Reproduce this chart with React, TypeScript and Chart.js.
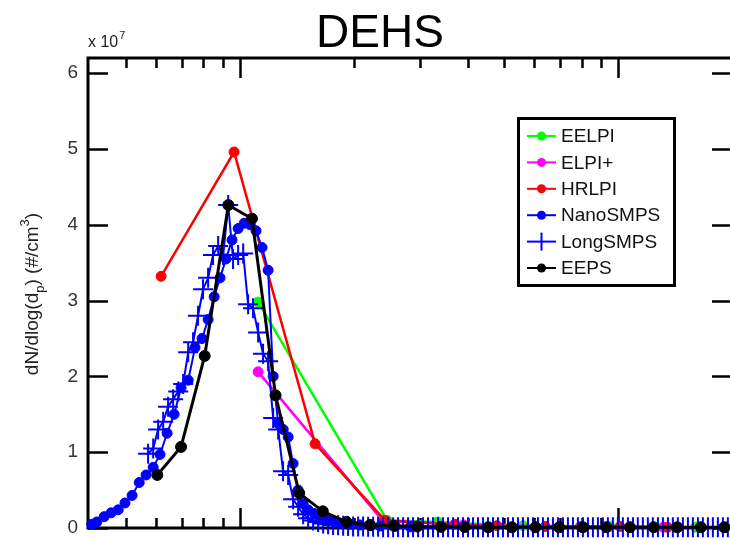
import { useEffect, useRef } from "react";
import { Chart, registerables } from "chart.js";

Chart.register(...registerables);

// ---- Data (y values in units of 10^7 #/cm^3, x = particle diameter in nm) ----
const chartTitle = "DEHS";
const yTickValues = [0, 1, 2, 3, 4, 5, 6];
const xMajorTicks = [100, 1000];
const xMinorTicks = [50, 60, 70, 80, 90, 200, 300, 400, 500, 600, 700, 800, 900, 2000];

const seriesNames = ["EELPI", "ELPI+", "HRLPI", "NanoSMPS", "LongSMPS", "EEPS"];

const eelpiX = [111.6, 245, 333, 560, 950, 1600];
const eelpiY = [2.98, 0.1, 0.08, 0.03, 0.02, 0.01];

const elpiPlusX = [111.6, 238, 390, 794, 1316, 1900];
const elpiPlusY = [2.06, 0.1, 0.04, 0.02, 0.01, 0.01];

const hrlpiX = [61.8, 96.4, 157.9, 242, 370, 478, 641, 1011, 1350, 1900];
const hrlpiY = [3.32, 4.96, 1.11, 0.1, 0.05, 0.03, 0.02, 0.02, 0.01, 0.01];

const nanoX = [
  40.5, 41.8, 43.7, 45.6, 47.6, 49.6, 51.8, 54.1, 56.4, 58.9, 61.4, 64.1, 66.9, 69.8, 72.9, 76.0,
  79.3, 82.3, 85.4, 88.5, 91.8, 95.2, 98.8, 102.5, 106.3, 110.2, 114.3, 118.6, 122.3, 126.1, 130.0,
  134.0, 138.1, 142.4, 146.8, 151.3, 157.0, 162.8, 169.9, 177.3, 186.2, 195.4, 207.7, 220.8, 234.7,
  257.1, 281.8,
];
const nanoY = [
  0.05, 0.08, 0.15, 0.2, 0.24, 0.33, 0.43, 0.6, 0.7, 0.8, 0.97, 1.25, 1.5, 1.85, 1.95, 2.38,
  2.5, 2.75, 3.05, 3.3, 3.55, 3.8, 3.95, 4.02, 4.0, 3.92, 3.7, 3.4, 2.0, 1.38, 1.3,
  1.2, 0.85, 0.5, 0.32, 0.24, 0.19, 0.14, 0.11, 0.08, 0.06, 0.05, 0.04, 0.03, 0.025,
  0.02, 0.015,
];

const longX = [
  57.1, 58.9, 60.7, 62.6, 64.5, 66.5, 68.6, 70.7, 72.9, 75.1, 77.4, 79.8, 82.3, 84.8, 87.5, 90.2,
  93.0, 95.8, 98.8, 101.9, 105.0, 108.2, 111.6, 115.0, 118.6, 122.3, 126.1, 129.9, 134.0, 138.1,
  142.4, 146.8, 151.3, 156.0, 160.8, 165.8, 170.9, 176.2, 181.6, 187.3, 193.0, 199.0, 205.2, 211.5,
  218.1, 224.8, 231.7, 238.9, 246.3, 253.9, 261.7, 269.8, 278.1, 286.7, 295.6, 304.7, 314.1, 323.8,
  333.8, 344.1, 354.8, 365.7, 377.0, 388.7, 400.7, 413.1, 425.8, 439.0, 452.5, 466.5, 480.9, 495.8,
  511.1, 526.9, 543.2, 560.0, 577.3, 595.1, 613.5, 632.4, 652.0, 672.1, 692.9, 714.3, 736.3, 759.1,
  782.5, 806.7, 831.6, 857.3, 883.8, 911.1, 939.2, 968.2, 998.1, 1029, 1061, 1094, 1127, 1162, 1198,
  1235, 1274, 1313, 1354, 1395, 1438, 1483, 1529, 1576, 1625, 1675, 1727, 1780, 1835, 1892, 1950, 2010,
];
const longY = [
  0.98, 1.05, 1.3, 1.4, 1.6, 1.7, 1.8, 1.9, 2.32, 2.45, 2.8, 3.15, 3.3, 3.6, 3.72, 3.6,
  4.26, 3.55, 3.6, 3.62, 2.95, 2.9, 2.58, 2.3, 2.2, 1.45, 1.3, 0.75, 0.7, 0.38,
  0.28, 0.18, 0.13, 0.1, 0.08, 0.06, 0.05, 0.04, 0.035, 0.03, 0.025, 0.02, 0.02, 0.02,
  0.015, 0.015, 0.015, 0.01, 0.01, 0.01, 0.01, 0.01, 0.01, 0.01, 0.01, 0.01, 0.01, 0.01,
  0.01, 0.01, 0.01, 0.01, 0.01, 0.01, 0.01, 0.01, 0.01, 0.01, 0.01, 0.01, 0.01, 0.01,
  0.01, 0.01, 0.01, 0.01, 0.01, 0.01, 0.01, 0.01, 0.01, 0.01, 0.01, 0.01, 0.01, 0.01,
  0.01, 0.01, 0.01, 0.01, 0.01, 0.01, 0.01, 0.01, 0.01, 0.01, 0.01, 0.01, 0.01, 0.01, 0.01,
  0.01, 0.01, 0.01, 0.01, 0.01, 0.01, 0.01, 0.01, 0.01, 0.01, 0.01, 0.01, 0.01, 0.01, 0.01, 0.01,
];

const eepsX = [
  60.4, 69.8, 80.6, 93.1, 107.5, 124.1, 143.3, 165.5, 191.1, 220.7, 254.8, 294.3, 339.8, 392.4,
  453.2, 523.3, 604.3, 697.9, 805.9, 930.6, 1074.6, 1241.0, 1433.1, 1654.9, 1911.1, 2206.9,
];
const eepsY = [
  0.7, 1.07, 2.27, 4.26, 4.08, 1.75, 0.46, 0.22, 0.08, 0.04, 0.03, 0.02, 0.015, 0.012,
  0.01, 0.01, 0.01, 0.01, 0.01, 0.01, 0.01, 0.01, 0.01, 0.01, 0.01, 0.01,
];

const FONT = "'Liberation Sans', Arial, Helvetica, sans-serif";
const colors = ["#00ff00", "#ff00ff", "#ff0000", "#0000ff", "#0000ff", "#000000"];

const toPoints = (xs: number[], ys: number[]) => xs.map((x, i) => ({ x, y: ys[i] }));

const decorPlugin = {
  id: "decor",
  beforeDatasetsDraw(chart: any) {
    const { ctx, chartArea: a, scales } = chart;
    const xs = scales.x;
    const ys = scales.y;
    ctx.save();
    ctx.strokeStyle = "#000";
    ctx.lineCap = "butt";
    // y ticks (left and right, inward)
    ctx.lineWidth = 2.5;
    yTickValues.forEach((v) => {
      const py = Math.round(ys.getPixelForValue(v)) + 0.5;
      ctx.beginPath();
      ctx.moveTo(a.left, py);
      ctx.lineTo(a.left + 20, py);
      ctx.moveTo(a.right, py);
      ctx.lineTo(a.right - 20, py);
      ctx.stroke();
    });
    // x ticks (bottom and top, inward)
    const drawX = (v: number, len: number) => {
      const px = Math.round(xs.getPixelForValue(v)) + 0.5;
      ctx.beginPath();
      ctx.moveTo(px, a.bottom);
      ctx.lineTo(px, a.bottom - len);
      ctx.moveTo(px, a.top);
      ctx.lineTo(px, a.top + len);
      ctx.stroke();
    };
    xMinorTicks.forEach((v) => drawX(v, 10));
    xMajorTicks.forEach((v) => drawX(v, 20));
    // frame
    ctx.lineWidth = 3;
    ctx.beginPath();
    ctx.moveTo(a.left, a.top);
    ctx.lineTo(a.right, a.top);
    ctx.lineTo(a.right, a.bottom);
    ctx.lineTo(a.left, a.bottom);
    ctx.closePath();
    ctx.stroke();
    ctx.restore();
  },
  afterDraw(chart: any) {
    const { ctx, chartArea: a } = chart;
    ctx.save();
    ctx.fillStyle = "#000";
    // title
    ctx.font = `46px ${FONT}`;
    ctx.textAlign = "center";
    ctx.textBaseline = "alphabetic";
    ctx.fillText(chartTitle, 380, 47);
    // exponent label
    ctx.fillStyle = "#222";
    ctx.textAlign = "left";
    ctx.font = `16px ${FONT}`;
    ctx.fillText("x 10", a.left, 47);
    const w10 = ctx.measureText("x 10").width;
    ctx.font = `11px ${FONT}`;
    ctx.fillText("7", a.left + w10 + 1, 39);

    // y-axis title (rotated)
    ctx.save();
    ctx.translate(38, 294);
    ctx.rotate(-Math.PI / 2);
    const parts: [string, number, number][] = [
      ["dN/dlog(d", 19, 0],
      ["p", 13, 6],
      [") (#/cm", 19, 0],
      ["3", 13, -9],
      [")", 19, 0],
    ];
    let total = 0;
    parts.forEach(([t, s]) => {
      ctx.font = `${s}px ${FONT}`;
      total += ctx.measureText(t).width;
    });
    let cx = -total / 2;
    ctx.fillStyle = "#222";
    parts.forEach(([t, s, dy]) => {
      ctx.font = `${s}px ${FONT}`;
      ctx.fillText(t, cx, dy);
      cx += ctx.measureText(t).width;
    });
    ctx.restore();

    // legend
    const bx = 518, by = 118, bw = 156, bh = 167;
    ctx.fillStyle = "#fff";
    ctx.fillRect(bx, by, bw, bh);
    ctx.lineWidth = 3;
    ctx.strokeStyle = "#000";
    ctx.strokeRect(bx + 0.5, by + 0.5, bw, bh);
    ctx.font = `19px ${FONT}`;
    ctx.textBaseline = "middle";
    seriesNames.forEach((name, i) => {
      const y = 136 + i * 26.4;
      const c = colors[i];
      ctx.strokeStyle = c;
      ctx.fillStyle = c;
      ctx.lineWidth = 2;
      ctx.beginPath();
      ctx.moveTo(527, y);
      ctx.lineTo(556, y);
      ctx.stroke();
      if (name === "LongSMPS") {
        ctx.beginPath();
        ctx.moveTo(541.5, y - 9);
        ctx.lineTo(541.5, y + 9);
        ctx.stroke();
      } else {
        ctx.beginPath();
        ctx.arc(541.5, y, 4.5, 0, Math.PI * 2);
        ctx.fill();
      }
      ctx.fillStyle = "#111";
      ctx.fillText(name, 561, y + 1);
    });
    ctx.restore();
  },
};

export default function App() {
  const ref = useRef<HTMLCanvasElement | null>(null);
  useEffect(() => {
    if (!ref.current) return;
    const base = { showLine: true, clip: false as any, pointBorderWidth: 1 };
    const chart = new Chart(ref.current, {
      type: "scatter",
      data: {
        datasets: [
          { ...base, label: "EELPI", data: toPoints(eelpiX, eelpiY), borderColor: colors[0], backgroundColor: colors[0], pointRadius: 5, borderWidth: 2.5, order: 6 },
          { ...base, label: "ELPI+", data: toPoints(elpiPlusX, elpiPlusY), borderColor: colors[1], backgroundColor: colors[1], pointRadius: 5, borderWidth: 2.5, order: 5 },
          { ...base, label: "HRLPI", data: toPoints(hrlpiX, hrlpiY), borderColor: colors[2], backgroundColor: colors[2], pointRadius: 5, borderWidth: 2.5, order: 4 },
          { ...base, label: "NanoSMPS", data: toPoints(nanoX, nanoY), borderColor: colors[3], backgroundColor: colors[3], pointRadius: 5, borderWidth: 2, order: 3 },
          { ...base, label: "LongSMPS", data: toPoints(longX, longY), borderColor: colors[4], backgroundColor: colors[4], pointStyle: "cross", pointRadius: 10, pointBorderWidth: 2, borderWidth: 2, order: 2 },
          { ...base, label: "EEPS", data: toPoints(eepsX, eepsY), borderColor: colors[5], backgroundColor: colors[5], pointRadius: 5.5, borderWidth: 3, order: 1 },
        ],
      },
      options: {
        responsive: false,
        animation: false,
        devicePixelRatio: 1,
        layout: { padding: { left: 0, top: 58, right: 28, bottom: 32 } },
        plugins: {
          legend: { display: false },
          title: { display: false },
          tooltip: { enabled: false },
        },
        scales: {
          x: { type: "logarithmic", min: 39.6, max: 2000, display: false },
          y: {
            type: "linear",
            min: 0,
            max: 6.2,
            afterBuildTicks: (s: any) => {
              s.ticks = yTickValues.map((v) => ({ value: v }));
            },
            afterFit: (s: any) => {
              s.width = 88;
            },
            grid: { display: false, drawTicks: false },
            border: { display: false },
            ticks: {
              padding: 10,
              color: "#333",
              font: { size: 19, family: FONT },
              callback: (v: any) => String(v),
            },
          },
        },
      },
      plugins: [decorPlugin],
    });
    return () => chart.destroy();
  }, []);
  return (
    <div style={{ position: "fixed", left: 0, top: 0, width: 730, height: 540, overflow: "hidden", background: "#fff" }}>
      <canvas ref={ref} width={760} height={560} style={{ width: 760, height: 560, display: "block" }} />
    </div>
  );
}
